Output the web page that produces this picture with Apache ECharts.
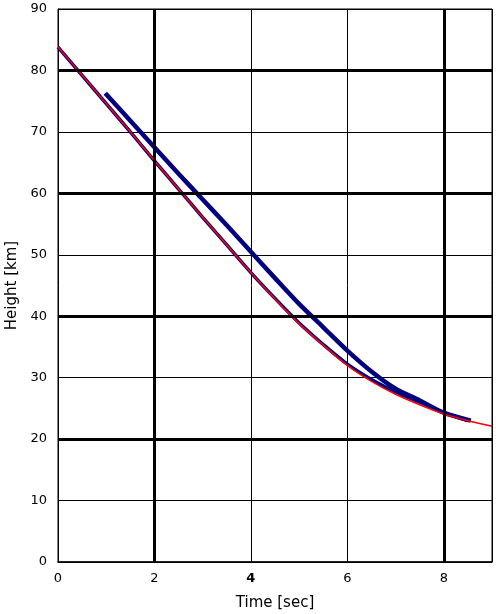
<!DOCTYPE html>
<html>
<head>
<meta charset="utf-8">
<script src="https://cdn.jsdelivr.net/npm/echarts@6/dist/echarts.min.js"></script>
<style>html,body{margin:0;padding:0;background:#fff}#c{width:496px;height:614px}</style>
</head>
<body>
<div id="c"></div>
<script>
// Fitted curve (red)
var fitT = [0, 0.5, 1, 1.5, 2, 2.5, 3, 3.5, 4, 4.5, 5, 5.5, 6, 6.5, 7, 7.5, 8, 8.5, 9];
var fitH = [83.8, 79.2, 74.6, 70.0, 65.3, 60.7, 56.1, 51.6, 47.1, 42.8, 38.8, 35.3, 32.0, 29.4, 27.3, 25.6, 24.1, 23.0, 22.1];
// Lower observed trace (blue, beneath fit)
var lowT = [0, 0.5, 1, 1.5, 2, 2.5, 3, 3.5, 4, 4.5, 5, 5.5, 6, 6.5, 7, 7.5, 8, 8.5];
var lowH = [83.8, 79.2, 74.6, 70.0, 65.3, 60.7, 56.1, 51.6, 47.1, 42.9, 38.9, 35.4, 32.2, 29.7, 27.7, 26.0, 24.3, 23.0];
// Upper observed trace (blue)
var upT = [0.98, 1.5, 2, 2.5, 3, 3.5, 4, 4.5, 5, 5.5, 6, 6.5, 7, 7.5, 8, 8.56];
var upH = [76.3, 71.8, 67.5, 63.2, 59.0, 54.8, 50.5, 46.2, 42.0, 38.2, 34.4, 31.0, 28.2, 26.3, 24.3, 23.0];
// Axis ticks
var xTicks = [0, 2, 4, 6, 8];
var yTicks = [0, 10, 20, 30, 40, 50, 60, 70, 80, 90];
var thickX = [2, 8];
var thickY = [20, 40, 60, 80];

function pairs(t, h) { return t.map(function (v, i) { return [v, h[i]]; }); }

var chart = echarts.init(document.getElementById('c'));
var font = '"DejaVu Sans", "Liberation Sans", sans-serif';
var marks = thickX.map(function (v) { return { xAxis: v }; }).concat(thickY.map(function (v) { return { yAxis: v }; }));

chart.setOption({
  animation: false,
  backgroundColor: '#fff',
  grid: { left: 58, right: 4, top: 9, bottom: 52, containLabel: false, outerBoundsMode: 'none',
    show: true, borderColor: '#000', borderWidth: 1, backgroundColor: 'transparent' },
  xAxis: {
    type: 'value', min: 0, max: 9, interval: 2,
    name: 'Time [sec]', nameLocation: 'middle', nameGap: 34,
    nameTextStyle: { color: '#000', fontSize: 15, fontFamily: font },
    axisLine: { show: true, lineStyle: { color: '#000', width: 1.5 } },
    axisTick: { show: false },
    axisLabel: {
      color: '#000', fontSize: 13, fontFamily: font, margin: 10, showMaxLabel: false,
      formatter: function (v) { return v === 4 ? '{b|4}' : String(v); },
      rich: { b: { fontWeight: 'bold', fontSize: 13, fontFamily: font, color: '#000' } }
    },
    splitLine: { show: true, lineStyle: { color: '#000', width: 1 } }
  },
  yAxis: {
    type: 'value', min: 0, max: 90, interval: 10,
    name: 'Height [km]', nameLocation: 'middle', nameGap: 36, nameRotate: 90,
    nameTextStyle: { color: '#000', fontSize: 15, fontFamily: font },
    axisLine: { show: true, lineStyle: { color: '#000', width: 1 } },
    axisTick: { show: false },
    axisLabel: { color: '#000', fontSize: 13, fontFamily: font, margin: 11 },
    splitLine: { show: true, lineStyle: { color: '#000', width: 1 } }
  },
  series: [
    {
      type: 'line', data: [], silent: true,
      markLine: { silent: true, symbol: 'none', label: { show: false },
        lineStyle: { color: '#000', width: 3, type: 'solid' }, data: marks }
    },
    {
      name: 'upper', type: 'line', data: pairs(upT, upH), smooth: 0.3,
      showSymbol: false, lineStyle: { color: '#000080', width: 4.5 }, z: 3
    },
    {
      name: 'lower', type: 'line', data: pairs(lowT, lowH), smooth: 0.3,
      showSymbol: false, lineStyle: { color: '#000080', width: 3.5 }, z: 3
    },
    {
      name: 'fit', type: 'line', data: pairs(fitT, fitH), smooth: 0.3,
      showSymbol: false, lineStyle: { color: '#ff0000', width: 1.5 }, z: 4
    }
  ]
});
</script>
</body>
</html>
